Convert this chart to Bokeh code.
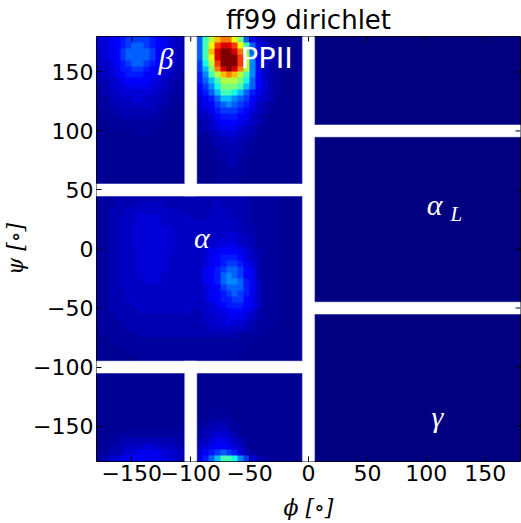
import numpy as np
from bokeh.plotting import figure
from bokeh.models import LinearColorMapper, FixedTicker, Range1d
from bokeh.embed import file_html
from bokeh.resources import INLINE
from bokeh.core.properties import value

# ---------------- data ----------------
TITLE = "ff99 dirichlet"
X_LABEL = "ϕ [∘]"
Y_LABEL = "ψ [∘]"
tick_values = [-150, -100, -50, 0, 50, 100, 150]
tick_labels = ["−150", "−100", "−50", "0", "50", "100", "150"]

phi_start = -180
psi_start = -180
bin_deg = 5

# density level code -> normalised density
level_chars = "0123456789abcdefghijklmn"
level_values = [0.000, 0.008, 0.016, 0.030, 0.045, 0.060, 0.075, 0.095, 0.115, 0.150,
                0.180, 0.220, 0.260, 0.310, 0.370, 0.430, 0.500, 0.570, 0.640, 0.710,
                0.780, 0.850, 0.920, 1.000]

# 72 x 72 histogram (5 degree bins); first row = psi 175..180, first column = phi -180..-175
density_rows = [
    "66789a aaa987 65446b fhjkki gb8543 322221 000000 000000 000000 000000 000000 000000",
    "66789a bba987 65446b filmml ifb754 322221 000000 000000 000000 000000 000000 000000",
    "5678ab bbba87 65446b fjmnnm kgb854 322221 000000 000000 000000 000000 000000 000000",
    "5678ab bbba87 65446b fimnnn lhc854 322221 000000 000000 000000 000000 000000 000000",
    "55689a bba987 65446a ehlnnn lhc854 322221 000000 000000 000000 000000 000000 000000",
    "456799 aa9876 54446a dgkmnm khc854 322221 000000 000000 000000 000000 000000 000000",
    "456789 998876 543359 cfhjkj hfc854 322221 000000 000000 000000 000000 000000 000000",
    "445678 888765 443359 bdfhhh geb864 322221 000000 000000 000000 000000 000000 000000",
    "345667 777665 433358 aceggg fdb864 322221 000000 000000 000000 000000 000000 000000",
    "344566 666654 433347 9bdffe db9754 322221 000000 000000 000000 000000 000000 000000",
    "334555 665554 333336 89bddc ba8654 322221 000000 000000 000000 000000 000000 000000",
    "334455 555544 332335 78abcb a97543 222221 000000 000000 000000 000000 000000 000000",
    "233444 444443 322235 679aaa 986543 222221 000000 000000 000000 000000 000000 000000",
    "233344 444433 322234 568999 875432 222221 000000 000000 000000 000000 000000 000000",
    "223333 333333 222223 457888 765432 222221 000000 000000 000000 000000 000000 000000",
    "222333 333332 222223 456777 654332 222221 000000 000000 000000 000000 000000 000000",
    "222222 333322 222223 345666 544322 222221 000000 000000 000000 000000 000000 000000",
    "222222 222222 222222 334455 443222 222221 000000 000000 000000 000000 000000 000000",
    "222222 222222 222222 334444 433222 222221 000000 000000 000000 000000 000000 000000",
    "222222 222222 222222 233444 433222 222221 000000 000000 000000 000000 000000 000000",
    "222222 222222 222222 233344 332222 222221 000000 000000 000000 000000 000000 000000",
    "222222 222222 222222 223344 332222 222221 000000 000000 000000 000000 000000 000000",
    "222222 222222 222222 223333 332222 222221 000000 000000 000000 000000 000000 000000",
    "222222 222222 222222 223333 322222 222221 000000 000000 000000 000000 000000 000000",
    "222222 222222 222222 222333 222222 222221 000000 000000 000000 000000 000000 000000",
    "222222 222222 222222 222333 222222 222221 000000 000000 000000 000000 000000 000000",
    "222333 333333 333333 223333 333222 222221 000000 000000 000000 000000 000000 000000",
    "333444 444444 444444 444444 443333 322221 000000 000000 000000 000000 000000 000000",
    "333444 455554 444444 445444 443333 322221 000000 000000 000000 000000 000000 000000",
    "334445 555555 554444 445544 443333 322221 000000 000000 000000 000000 000000 000000",
    "334455 566665 555544 455554 443333 322221 000000 000000 000000 000000 000000 000000",
    "334455 566665 555555 555555 443333 322221 000000 000000 000000 000000 000000 000000",
    "334455 666666 655555 555555 444333 322221 000000 000000 000000 000000 000000 000000",
    "334455 666666 655555 555566 544333 322221 000000 000000 000000 000000 000000 000000",
    "334455 666666 655555 556666 554333 322221 000000 000000 000000 000000 000000 000000",
    "334455 666666 655555 566777 654333 322221 000000 000000 000000 000000 000000 000000",
    "334455 566666 655555 677888 765433 322221 000000 000000 000000 000000 000000 000000",
    "334455 566666 555555 678999 865433 322221 000000 000000 000000 000000 000000 000000",
    "334455 566666 555555 6789aa 976433 322221 000000 000000 000000 000000 000000 000000",
    "334455 566666 555555 789abb a87433 322221 000000 000000 000000 000000 000000 000000",
    "334455 566665 555555 789bcb a87433 322221 000000 000000 000000 000000 000000 000000",
    "334455 556665 555555 789bcc b97533 322221 000000 000000 000000 000000 000000 000000",
    "334455 555555 555555 678abb b97533 322221 000000 000000 000000 000000 000000 000000",
    "334445 555555 555555 6789ab a97533 322221 000000 000000 000000 000000 000000 000000",
    "334445 555555 555555 67899a a87533 322221 000000 000000 000000 000000 000000 000000",
    "334444 555555 555555 567899 987533 322221 000000 000000 000000 000000 000000 000000",
    "334444 455555 555544 566788 876433 322221 000000 000000 000000 000000 000000 000000",
    "333444 444444 444444 556677 765433 322221 000000 000000 000000 000000 000000 000000",
    "333344 444444 444444 556676 654333 322221 000000 000000 000000 000000 000000 000000",
    "333334 444444 444444 455555 544333 222221 000000 000000 000000 000000 000000 000000",
    "233333 344444 444444 444444 333332 222221 000000 000000 000000 000000 000000 000000",
    "223333 333333 333333 333333 333222 222221 000000 000000 000000 000000 000000 000000",
    "222333 333333 333333 333333 332222 222221 000000 000000 000000 000000 000000 000000",
    "222223 333333 333333 333333 322222 222221 000000 000000 000000 000000 000000 000000",
    "222222 233333 333333 333333 222222 222221 000000 000000 000000 000000 000000 000000",
    "222222 222222 222222 222222 222222 222221 000000 000000 000000 000000 000000 000000",
    "222222 222222 222222 222222 222222 222221 000000 000000 000000 000000 000000 000000",
    "222222 222222 222222 222222 222222 222221 000000 000000 000000 000000 000000 000000",
    "222222 222222 222222 222222 222222 222221 000000 000000 000000 000000 000000 000000",
    "222222 222222 222222 222222 222222 222221 000000 000000 000000 000000 000000 000000",
    "222222 222222 222222 222222 222222 222221 000000 000000 000000 000000 000000 000000",
    "222222 222222 222222 222222 222222 222221 000000 000000 000000 000000 000000 000000",
    "222222 222222 222222 222222 222222 222221 000000 000000 000000 000000 000000 000000",
    "222222 222222 222222 233322 222222 222221 000000 000000 000000 000000 000000 000000",
    "222222 222222 222222 233332 222222 222221 000000 000000 000000 000000 000000 000000",
    "222222 222222 222223 344433 222222 222221 000000 000000 000000 000000 000000 000000",
    "222223 333333 333223 445543 322222 222221 000000 000000 000000 000000 000000 000000",
    "222333 333333 333223 456654 322222 222221 000000 000000 000000 000000 000000 000000",
    "223344 444444 443334 567765 432222 222221 000000 000000 000000 000000 000000 000000",
    "233445 556655 544335 678876 532222 222221 000000 000000 000000 000000 000000 000000",
    "334456 677776 655346 89aba9 643222 222221 000000 000000 000000 000000 000000 000000",
    "345677 887776 654457 9bdffe ca6433 222221 000000 000000 000000 000000 000000 000000",
]

# region partition (white gaps between the conformational regions)
phi_main_cut = 0
left_phi_cut = -100
left_psi_cuts = [50, -100]
right_psi_cuts = [100, -50]
gap_deg = 10

# region labels
greek_text = ["β", "α", "α", "γ"]
greek_phi = [-121.0, -90.5, 107.0, 109.5]
greek_psi = [161.0, 10.0, 37.5, -141.5]
sub_text = ["L"]
sub_phi = [125.5]
sub_psi = [30.0]
ppii_text = ["PPII"]
ppii_phi = [-57.5]
ppii_psi = [161.5]

# ---------------- colour map (matplotlib "jet") ----------------
def jet_hex(v):
    r = np.interp(v, [0, 0.35, 0.66, 0.89, 1], [0, 0, 1, 1, 0.5])
    g = np.interp(v, [0, 0.125, 0.375, 0.64, 0.91, 1], [0, 0, 1, 1, 0, 0])
    b = np.interp(v, [0, 0.11, 0.34, 0.65, 1], [0.5, 1, 1, 0, 0])
    return "#%02x%02x%02x" % (int(round(r * 255)), int(round(g * 255)), int(round(b * 255)))

jet_palette = [jet_hex(i / 255) for i in range(256)]
mapper = LinearColorMapper(palette=jet_palette, low=0, high=1)

grid = np.array([[level_values[level_chars.index(c)] for c in row.replace(" ", "")]
                 for row in density_rows])[::-1]
n_rows, n_cols = grid.shape

# ---------------- figure ----------------
p = figure(frame_width=424, frame_height=425,
           x_range=Range1d(-180, 180), y_range=Range1d(-180, 180),
           output_backend="svg", toolbar_location=None, title=TITLE,
           min_border_left=88, min_border_right=1, min_border_top=28, min_border_bottom=54)
p.background_fill_color = "white"
p.border_fill_color = "white"
p.outline_line_color = "black"
p.outline_line_width = 1
p.grid.visible = False

p.title.text_font = "DejaVu Sans"
p.title.text_font_size = "26px"
p.title.text_font_style = "normal"
p.title.text_color = "black"
p.title.align = "center"
p.title.standoff = 4

p.image(image=[grid], x=phi_start, y=psi_start, dw=n_cols * bin_deg, dh=n_rows * bin_deg,
        color_mapper=mapper)

h = gap_deg / 2
gap_left = [phi_main_cut - h, left_phi_cut - h, left_phi_cut - h, -180, -180, phi_main_cut, phi_main_cut]
gap_right = [phi_main_cut + h, left_phi_cut + h, left_phi_cut + h, phi_main_cut, phi_main_cut, 180, 180]
gap_bottom = [-180, left_psi_cuts[0] - h, -180, left_psi_cuts[0] - h, left_psi_cuts[1] - h,
              right_psi_cuts[0] - h, right_psi_cuts[1] - h]
gap_top = [180, 180, left_psi_cuts[1] + h, left_psi_cuts[0] + h, left_psi_cuts[1] + h,
           right_psi_cuts[0] + h, right_psi_cuts[1] + h]
# pale edge first, then a clean white fill on top (hides edges inside crossings)
p.quad(left=gap_left, right=gap_right, bottom=gap_bottom, top=gap_top,
       fill_color="white", line_color="#9a9ad0", line_width=1.5, line_alpha=0.6)
p.quad(left=gap_left, right=gap_right, bottom=gap_bottom, top=gap_top,
       fill_color="white", line_color=None)

# inward ticks on top and right spines
tick_len = 4.2
p.segment(x0=tick_values, y0=[180] * len(tick_values), x1=tick_values,
          y1=[180 - tick_len] * len(tick_values), line_color="black", line_width=1)
p.segment(x0=[180] * len(tick_values), y0=tick_values, x1=[180 - tick_len] * len(tick_values),
          y1=tick_values, line_color="black", line_width=1)

p.text(x=greek_phi, y=greek_psi, text=greek_text, text_color="white",
       text_font=value("Liberation Serif"), text_font_style="italic", text_font_size="30px",
       text_align="center", text_baseline="alphabetic")
p.text(x=sub_phi, y=sub_psi, text=sub_text, text_color="white",
       text_font=value("Liberation Serif"), text_font_style="italic", text_font_size="21px",
       text_align="center", text_baseline="alphabetic")
p.text(x=ppii_phi, y=ppii_psi, text=ppii_text, text_color="white",
       text_font=value("DejaVu Sans"), text_font_size="29px",
       text_align="left", text_baseline="alphabetic")

p.xaxis.axis_label = X_LABEL
p.yaxis.axis_label = Y_LABEL
for ax in (p.xaxis[0], p.yaxis[0]):
    ax.ticker = FixedTicker(ticks=tick_values)
    ax.major_label_overrides = {v: l for v, l in zip(tick_values, tick_labels)}
    ax.major_label_text_font = "DejaVu Sans"
    ax.major_label_text_font_size = "22px"
    ax.major_label_text_color = "black"
    ax.major_tick_in = 5
    ax.major_tick_out = 0
    ax.major_tick_line_color = "black"
    ax.minor_tick_line_color = None
    ax.axis_line_color = None
    ax.major_label_standoff = 3
    ax.axis_label_text_font = "DejaVu Serif"
    ax.axis_label_text_font_style = "italic"
    ax.axis_label_text_font_size = "22px"
    ax.axis_label_text_color = "black"
p.xaxis[0].axis_label_standoff = 11
p.yaxis[0].axis_label_standoff = 2

open("out.html", "w").write(file_html(p, INLINE))
